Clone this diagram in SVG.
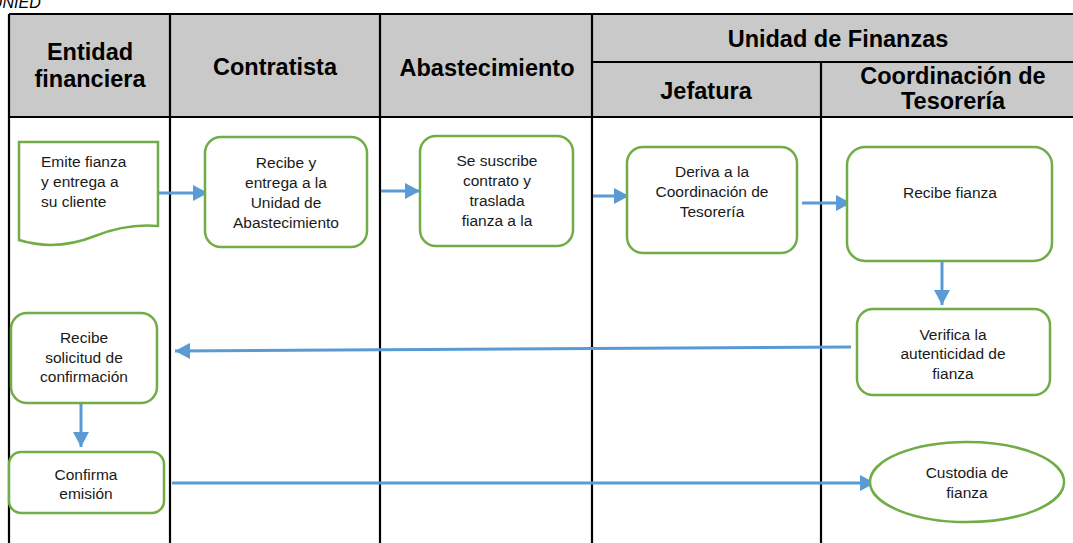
<svg xmlns="http://www.w3.org/2000/svg" width="1073" height="543" viewBox="0 0 1073 543">
<defs>
<style>
.hdr{fill:#c9c9c9;stroke:none}
.ln{stroke:#000;stroke-width:2.2;fill:none}
.h{font-family:"Liberation Sans",Arial,sans-serif;font-weight:bold;font-size:23.5px;fill:#000;text-anchor:middle}
.n{fill:#fff;stroke:#70ad47;stroke-width:2.5}
.t{font-family:"Liberation Sans",Arial,sans-serif;font-size:15.5px;fill:#1a1a1a;text-anchor:middle}
.tl{text-anchor:start}
.c{stroke:#5b9bd5;stroke-width:3;fill:none;marker-end:url(#ah)}
</style>
<marker id="ah" markerUnits="userSpaceOnUse" markerWidth="16" markerHeight="16" refX="15" refY="8" orient="auto">
<path d="M0,0 L15,8 L0,16 z" fill="#5b9bd5"/>
</marker>
</defs>
<rect width="1073" height="543" fill="#fff"/>
<text x="-9" y="8" font-family="Liberation Sans,Arial,sans-serif" font-style="italic" font-size="16" fill="#000">UNIED</text>
<g id="table">
<rect class="hdr" x="9" y="14" width="1070" height="103"/>
<path class="ln" d="M9,14 H1080 M592,62 H1080 M9,117 H1080 M9,14 V543 M170,14 V543 M380,14 V543 M592,14 V543 M821,62 V543"/>
<text class="h" x="90" y="60">Entidad</text>
<text class="h" x="90" y="87">financiera</text>
<text class="h" x="275" y="75">Contratista</text>
<text class="h" x="487" y="76">Abastecimiento</text>
<text class="h" x="838" y="47">Unidad de Finanzas</text>
<text class="h" x="706" y="99">Jefatura</text>
<text class="h" x="953" y="84">Coordinación de</text>
<text class="h" x="953" y="109">Tesorería</text>
</g>
<g id="connectors">
<path class="c" d="M158,193 H208"/>
<path class="c" d="M381,191 H420"/>
<path class="c" d="M593,196 H629"/>
<path class="c" d="M802,203 H851"/>
<path class="c" d="M942,261 V305"/>
<path class="c" d="M851,347 L175,351"/>
<path class="c" d="M81,403 V447"/>
<path class="c" d="M172,483 H875"/>
</g>
<g id="n1">
<path class="n" d="M19,142 H158 V226 C135,224 115,228 95,236 C70,246 45,248 19,240 Z"/>
<text class="t tl" x="41" y="167">Emite fianza</text>
<text class="t tl" x="41" y="187">y entrega a</text>
<text class="t tl" x="41" y="207">su cliente</text>
</g>
<g id="n2">
<rect class="n" x="205" y="137" width="162" height="110" rx="16"/>
<text class="t" x="286" y="168">Recibe y</text>
<text class="t" x="286" y="188">entrega a la</text>
<text class="t" x="286" y="208">Unidad de</text>
<text class="t" x="286" y="228">Abastecimiento</text>
</g>
<g id="n3">
<rect class="n" x="420" y="136" width="153" height="110" rx="16"/>
<text class="t" x="497" y="166">Se suscribe</text>
<text class="t" x="497" y="186">contrato y</text>
<text class="t" x="497" y="206">traslada</text>
<text class="t" x="497" y="226">fianza a la</text>
</g>
<g id="n4">
<rect class="n" x="627" y="147" width="170" height="106" rx="16"/>
<text class="t" x="712" y="177">Deriva a la</text>
<text class="t" x="712" y="197">Coordinación de</text>
<text class="t" x="712" y="217">Tesorería</text>
</g>
<g id="n5">
<rect class="n" x="847" y="147" width="205" height="114" rx="18"/>
<text class="t" x="950" y="198">Recibe fianza</text>
</g>
<g id="n6">
<rect class="n" x="857" y="309" width="193" height="86" rx="16"/>
<text class="t" x="953" y="340">Verifica la</text>
<text class="t" x="953" y="359">autenticidad de</text>
<text class="t" x="953" y="379">fianza</text>
</g>
<g id="n7">
<rect class="n" x="11" y="313" width="146" height="90" rx="16"/>
<text class="t" x="84" y="343">Recibe</text>
<text class="t" x="84" y="363">solicitud de</text>
<text class="t" x="84" y="382">confirmación</text>
</g>
<g id="n8">
<rect class="n" x="9" y="452" width="155" height="61" rx="12"/>
<text class="t" x="86" y="480">Confirma</text>
<text class="t" x="86" y="499">emisión</text>
</g>
<g id="n9">
<ellipse class="n" cx="967" cy="482" rx="97" ry="40"/>
<text class="t" x="967" y="478">Custodia de</text>
<text class="t" x="967" y="498">fianza</text>
</g>
</svg>
